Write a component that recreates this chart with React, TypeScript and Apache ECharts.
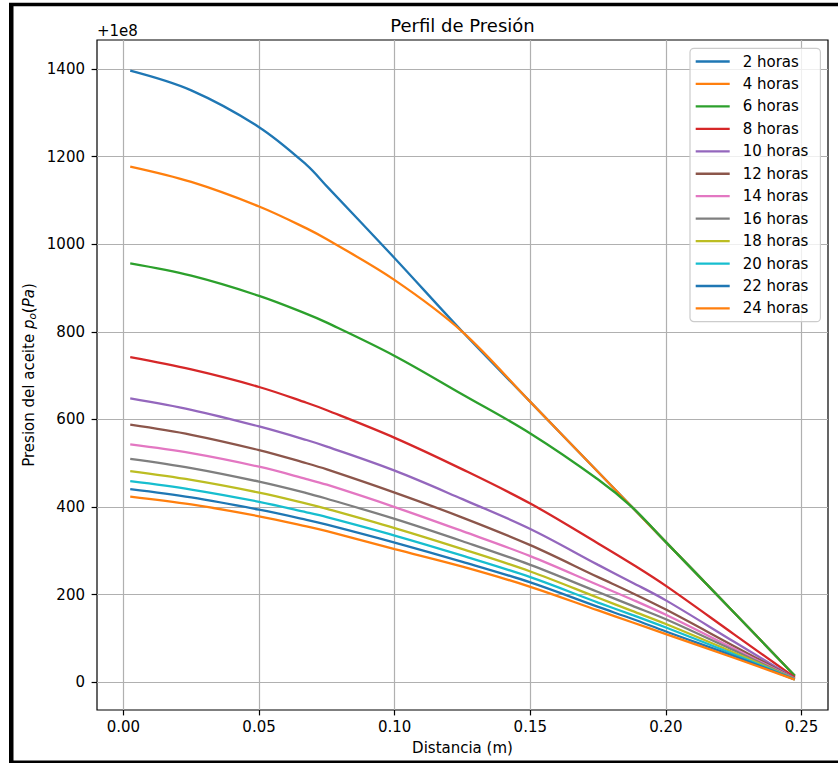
import React, { useEffect, useRef } from "react";
import * as echarts from "echarts";

// Distancia (m) at which the curves were read
const DISTANCIA = [0.0025, 0.025, 0.05, 0.0675, 0.075, 0.1, 0.125, 0.15, 0.175, 0.1875, 0.2, 0.225, 0.2475];

const HORAS = ["2 horas", "4 horas", "6 horas", "8 horas", "10 horas", "12 horas", "14 horas", "16 horas", "18 horas", "20 horas", "22 horas", "24 horas"];

// Presion (Pa) - 1e8
const P_2H = [1396, 1351, 1267, 1181, 1132, 968, 800, 640, 480, 400, 320, 160, 15];
const P_4H = [1177, 1142, 1086, 1036, 1011, 918, 800, 640, 480, 400, 320, 160, 15];
const P_6H = [956, 928, 882, 841, 821, 745, 657, 568, 463, 400, 320, 160, 15];
const P_8H = [742, 714, 674, 638, 621, 558, 486, 408, 317, 270, 220, 110, 11];
const P_10H = [648, 622, 584, 553, 538, 483, 418, 350, 268, 228, 187, 93, 9];
const P_12H = [588, 565, 530, 500, 486, 433, 376, 313, 240, 204, 166, 83, 8.5];
const P_14H = [543, 523, 492, 464, 451, 400, 345, 288, 222, 189, 154, 77, 8];
const P_16H = [510, 489, 458, 432, 419, 373, 322, 268, 206, 175, 144, 73, 7.5];
const P_18H = [482, 462, 433, 408, 396, 352, 304, 253, 193, 163, 133, 68, 7];
const P_20H = [459, 440, 412, 388, 377, 335, 289, 240, 182, 154, 125, 64, 6.8];
const P_22H = [441, 422, 394, 371, 360, 319, 275, 228, 172, 145, 116, 60, 6.5];
const P_24H = [424, 406, 379, 356, 345, 304, 264, 218, 164, 137, 110, 56, 6.3];

const SERIES_VALUES = [P_2H, P_4H, P_6H, P_8H, P_10H, P_12H, P_14H, P_16H, P_18H, P_20H, P_22H, P_24H];

const COLORES = ["#1f77b4", "#ff7f0e", "#2ca02c", "#d62728", "#9467bd", "#8c564b", "#e377c2", "#7f7f7f", "#bcbd22", "#17becf", "#1f77b4", "#ff7f0e"];

const X_TICKS = [0, 0.05, 0.1, 0.15, 0.2, 0.25];
const Y_TICKS = [0, 200, 400, 600, 800, 1000, 1200, 1400];

const FONT = "DejaVu Sans";

export default function App() {
  const ref = useRef<HTMLDivElement>(null);

  useEffect(() => {
    if (!ref.current) return;
    const chart = echarts.init(ref.current, null, { renderer: "svg" });

    const series = HORAS.map((name, i) => ({
      name,
      type: "line",
      data: DISTANCIA.map((x, j) => [x, SERIES_VALUES[i][j]]),
      showSymbol: false,
      smooth: 0.35,
      lineStyle: { width: 2.3, color: COLORES[i] },
      itemStyle: { color: COLORES[i] },
      emphasis: { disabled: true },
    }));

    const option: any = {
      animation: false,
      backgroundColor: "#ffffff",
      textStyle: { fontFamily: FONT },
      grid: {
        left: 97,
        top: 40,
        right: 10,
        bottom: 53,
        show: true,
        borderColor: "#000000",
        borderWidth: 1.2,
        backgroundColor: "transparent",
        containLabel: false,
        outerBoundsMode: "none",
      },
      xAxis: {
        type: "value",
        min: -0.00975,
        max: 0.25975,
        axisLine: { show: false, onZero: false },
        axisTick: {
          show: true,
          length: 5.4,
          lineStyle: { color: "#000", width: 1.2 },
          customValues: X_TICKS,
        },
        axisLabel: {
          customValues: X_TICKS,
          margin: 9,
          fontSize: 15,
          color: "#000",
          fontFamily: FONT,
          formatter: (v: number) => v.toFixed(2),
        },
        splitLine: { show: true, lineStyle: { color: "#b0b0b0", width: 1.2 } },
      },
      yAxis: {
        type: "value",
        min: -63.2,
        max: 1466,
        axisLine: { show: false, onZero: false },
        axisTick: {
          show: true,
          length: 5.4,
          lineStyle: { color: "#000", width: 1.2 },
          customValues: Y_TICKS,
        },
        axisLabel: {
          customValues: Y_TICKS,
          margin: 12,
          fontSize: 15,
          color: "#000",
          fontFamily: FONT,
          formatter: (v: number) => String(Math.round(v)),
        },
        splitLine: { show: true, lineStyle: { color: "#b0b0b0", width: 1.2 } },
      },
      legend: {
        orient: "vertical",
        left: 690,
        top: 48.3,
        data: HORAS,
        icon: "rect",
        itemWidth: 34,
        itemHeight: 2.3,
        itemGap: 4.45,
        selectedMode: false,
        padding: [4.2, 12, 4.2, 5.7],
        backgroundColor: "rgba(255,255,255,0.8)",
        borderColor: "#cccccc",
        borderWidth: 1.2,
        borderRadius: 4,
        textStyle: {
          fontSize: 15,
          color: "#000",
          fontFamily: FONT,
          lineHeight: 18,
          padding: [0, 0, 0, 8],
        },
      },
      graphic: [
        { type: "rect", shape: { x: 9, y: 3, width: 4.5, height: 760 }, style: { fill: "#000" } },
        { type: "rect", shape: { x: 9, y: 2.7, width: 829, height: 3.5 }, style: { fill: "#000" } },
        { type: "rect", shape: { x: 9, y: 760.5, width: 829, height: 3 }, style: { fill: "#000" } },
        {
          type: "text",
          x: 462.5,
          y: 25,
          style: { text: "Perfil de Presión", fontSize: 18, fontFamily: FONT, fill: "#000", align: "center", verticalAlign: "middle" },
        },
        {
          type: "text",
          x: 97,
          y: 30.5,
          style: { text: "+1e8", fontSize: 15, fontFamily: FONT, fill: "#000", align: "left", verticalAlign: "middle" },
        },
        {
          type: "text",
          x: 462.5,
          y: 747.5,
          style: { text: "Distancia (m)", fontSize: 15, fontFamily: FONT, fill: "#000", align: "center", verticalAlign: "middle" },
        },
        {
          type: "text",
          x: 28.5,
          y: 375,
          rotation: Math.PI / 2,
          style: {
            text: "Presion del aceite {it|p}{sub|o}({it|Pa})",
            fontSize: 15,
            fontFamily: FONT,
            fill: "#000",
            align: "center",
            verticalAlign: "middle",
            rich: {
              it: { fontSize: 15, fontStyle: "italic", fontFamily: FONT, fill: "#000", lineHeight: 18 },
              sub: { fontSize: 10.5, fontStyle: "italic", fontFamily: FONT, fill: "#000", verticalAlign: "bottom", lineHeight: 12 },
            },
          },
        },
      ],
      series,
    };

    chart.setOption(option);
    return () => chart.dispose();
  }, []);

  return (
    <div
      ref={ref}
      style={{ position: "fixed", left: 0, top: 0, width: 838, height: 763, background: "#fff" }}
    />
  );
}
